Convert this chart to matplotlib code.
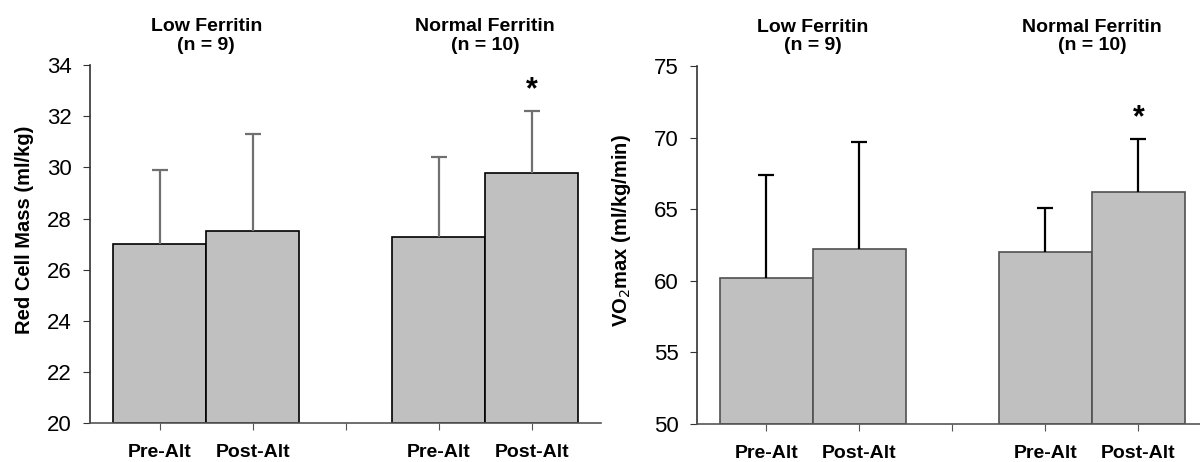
import matplotlib
matplotlib.use("Agg")
import matplotlib.pyplot as plt
import numpy as np

plt.rcParams['font.family'] = ['Liberation Sans', 'DejaVu Sans']

# bar slots: Pre, Post, (gap), Pre, Post
x_labels = ['Pre-Alt', 'Post-Alt', '', 'Pre-Alt', 'Post-Alt']
groups = ['Low Ferritin\n(n = 9)', 'Normal Ferritin\n(n = 10)']

# red cell mass (ml/kg)
rcm_mean = [27.0, 27.5, 27.3, 29.8]
rcm_err = [2.9, 3.8, 3.1, 2.4]

# VO2max (ml/kg/min)
vo2_mean = [60.2, 62.2, 62.0, 66.2]
vo2_err = [7.2, 7.5, 3.1, 3.7]

bar_x = [0, 1, 3, 4]
group_x = [0.5, 3.5]


def draw_panel(ax, mean, err, ylim, yticks, ylabel, bottom, edge, errcol, label_x):
    mean = np.array(mean)
    tops = mean + np.array(err)
    ax.bar(bar_x, mean - bottom, bottom=bottom, width=1.0,
           color='#c0c0c0', edgecolor=edge, linewidth=1.2, zorder=2)
    # upper error bars only
    ax.vlines(bar_x, mean, tops, color=errcol, linewidth=1.6, zorder=3)
    ax.plot(bar_x, tops, linestyle='none', marker='_', markersize=11,
            markeredgewidth=1.6, color=errcol, zorder=3)
    ax.set_xlim(-0.75, 4.75)
    ax.set_ylim(*ylim)
    ax.set_yticks(yticks)
    ax.set_xticks(range(len(x_labels)))
    ax.set_xticklabels(x_labels, fontsize=14, fontweight='bold')
    ax.tick_params(axis='y', labelsize=16, direction='out', length=5, pad=8,
                   color='#333333')
    ax.tick_params(axis='x', direction='out', length=5, pad=10, color='#555555')
    for s in ['top', 'right']:
        ax.spines[s].set_visible(False)
    ax.spines['left'].set_color('#333333')
    ax.spines['bottom'].set_color('#555555')
    ax.spines['left'].set_linewidth(1.2)
    ax.spines['bottom'].set_linewidth(1.2)
    ax.set_ylabel(ylabel, fontsize=14.5, fontweight='bold')
    ax.yaxis.set_label_coords(label_x, 0.54)
    for gx, g in zip(group_x, groups):
        ax.text(gx, 1.032, g, transform=ax.get_xaxis_transform(), ha='center',
                va='bottom', fontsize=14, fontweight='bold', linespacing=1.1)
    # significance marker over the last bar
    ax.annotate('*', (bar_x[-1], tops[-1]), xytext=(0, 15),
                textcoords='offset points', ha='center', va='center',
                fontsize=22, fontweight='bold')


fig = plt.figure(figsize=(12, 4.62), dpi=100)
ax1 = fig.add_axes([0.075, 0.0835, 0.4262, 0.7758])
ax2 = fig.add_axes([0.5806, 0.0823, 0.4262, 0.775])

draw_panel(ax1, rcm_mean, rcm_err, (20, 34), range(20, 35, 2),
           'Red Cell Mass (ml/kg)', 20, 'black', '#707070', -0.11)
draw_panel(ax2, vo2_mean, vo2_err, (50, 75), range(50, 76, 5),
           'VO$_2$max (ml/kg/min)', 50, '#505050', 'black', -0.125)

fig.savefig('out.png', dpi=100)
